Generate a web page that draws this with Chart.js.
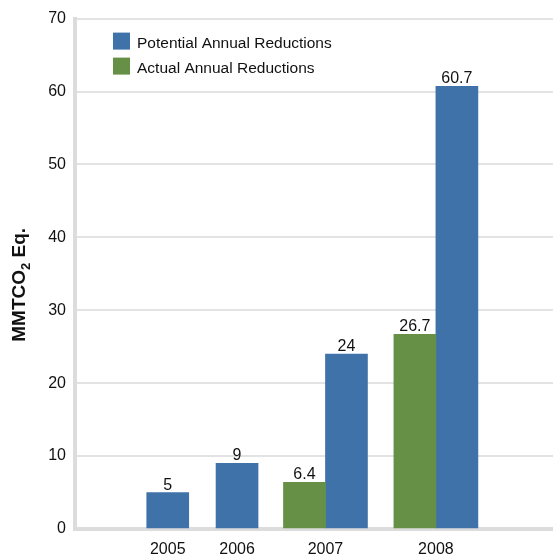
<!DOCTYPE html>
<html>
<head>
<meta charset="utf-8">
<script src="https://cdn.jsdelivr.net/npm/chart.js@4.4.1/dist/chart.umd.min.js"></script>
<style>
  body { margin: 0; background: #fff; }
</style>
</head>
<body>
<canvas id="co2Chart" width="553" height="557"></canvas>
<script>
// categories and where they sit along the axis (reference spacing is uneven)
const years = ['2005', '2006', '2007', '2008'];
const yearPos = [1.94, 3.39, 5.24, 7.55];
// MMTCO2 Eq.
const potential = [5, 9, 24, 60.7];
const actual = [null, null, 6.4, 26.7];
const yTicks = [0, 10, 20, 30, 40, 50, 60, 70];

const FONT = "'Liberation Sans', Arial, sans-serif";
const TEXT = '#111111';
const BLUE = '#4072aa';
const GREEN = '#669045';

Chart.defaults.font.family = FONT;
Chart.defaults.font.size = 16;
Chart.defaults.color = TEXT;

// value labels, legend box and the y title (with a real subscript)
const extras = {
    id: 'extras',
    afterDatasetsDraw(chart) {
        const ctx = chart.ctx;
        const area = chart.chartArea;
        ctx.save();
        ctx.fillStyle = TEXT;
        ctx.font = '16px ' + FONT;
        ctx.textAlign = 'center';
        ctx.textBaseline = 'alphabetic';
        chart.data.datasets.forEach((ds, di) => {
            chart.getDatasetMeta(di).data.forEach((bar, i) => {
                const v = ds.data[i].y;
                if (v === null) return;
                ctx.fillText(String(v), bar.x, bar.y - 3);
            });
        });

        // legend: Potential on top, Actual below
        const items = [[chart.data.datasets[1].label, BLUE], [chart.data.datasets[0].label, GREEN]];
        ctx.textAlign = 'left';
        ctx.font = '15.5px ' + FONT;
        items.forEach(([label, col], k) => {
            const y = area.top + 14 + k * 25;
            ctx.fillStyle = col;
            ctx.fillRect(area.left + 38, y, 17, 17);
            ctx.fillStyle = TEXT;
            ctx.fillText(label, area.left + 62, y + 15);
        });

        // y axis title
        ctx.translate(20, (area.top + area.bottom) / 2 + 11);
        ctx.rotate(-Math.PI / 2);
        const a = 'MMTCO', b = ' Eq.';
        ctx.font = 'bold 19px ' + FONT;
        const wa = ctx.measureText(a).width;
        const wb = ctx.measureText(b).width;
        ctx.font = 'bold 13px ' + FONT;
        const ws = ctx.measureText('2').width;
        const x = -(wa + ws + wb) / 2;
        ctx.textBaseline = 'middle';
        ctx.font = 'bold 19px ' + FONT;
        ctx.fillText(a, x, 0);
        ctx.font = 'bold 13px ' + FONT;
        ctx.fillText('2', x + wa, 6);
        ctx.font = 'bold 19px ' + FONT;
        ctx.fillText(b, x + wa + ws, 0);
        ctx.restore();
    }
};

const co2Chart = new Chart(document.getElementById('co2Chart'), {
    type: 'bar',
    data: {
        datasets: [{
            label: 'Actual Annual Reductions',
            data: years.map((y, i) => ({ x: yearPos[i], y: actual[i] })),
            backgroundColor: GREEN
        }, {
            label: 'Potential Annual Reductions',
            data: years.map((y, i) => ({ x: yearPos[i], y: potential[i] })),
            backgroundColor: BLUE
        }]
    },
    options: {
        responsive: false,
        animation: false,
        skipNull: true,
        barThickness: 42,
        layout: { padding: { top: 18, right: 0, left: 0, bottom: 0 } },
        plugins: {
            legend: { display: false },
            tooltip: { enabled: false }
        },
        scales: {
            x: {
                type: 'linear',
                min: 0,
                max: 10,
                offset: false,
                afterBuildTicks: s => { s.ticks = yearPos.map(v => ({ value: v })); },
                afterFit: s => { s.height = 28; },
                ticks: {
                    autoSkip: false,
                    maxRotation: 0,
                    padding: 11,
                    callback: (v, i) => years[i]
                },
                grid: { display: false, offset: false, drawTicks: false },
                border: { display: true, color: '#dcdcdc', width: 4 }
            },
            y: {
                min: 0,
                max: 70,
                afterBuildTicks: s => { s.ticks = yTicks.map(v => ({ value: v })); },
                afterFit: s => { s.width = 75; },
                ticks: { padding: 9 },
                grid: { color: '#e3e3e3', lineWidth: 2, drawTicks: false },
                border: { color: '#dcdcdc', width: 4 }
            }
        }
    },
    plugins: [extras]
});
</script>
</body>
</html>
